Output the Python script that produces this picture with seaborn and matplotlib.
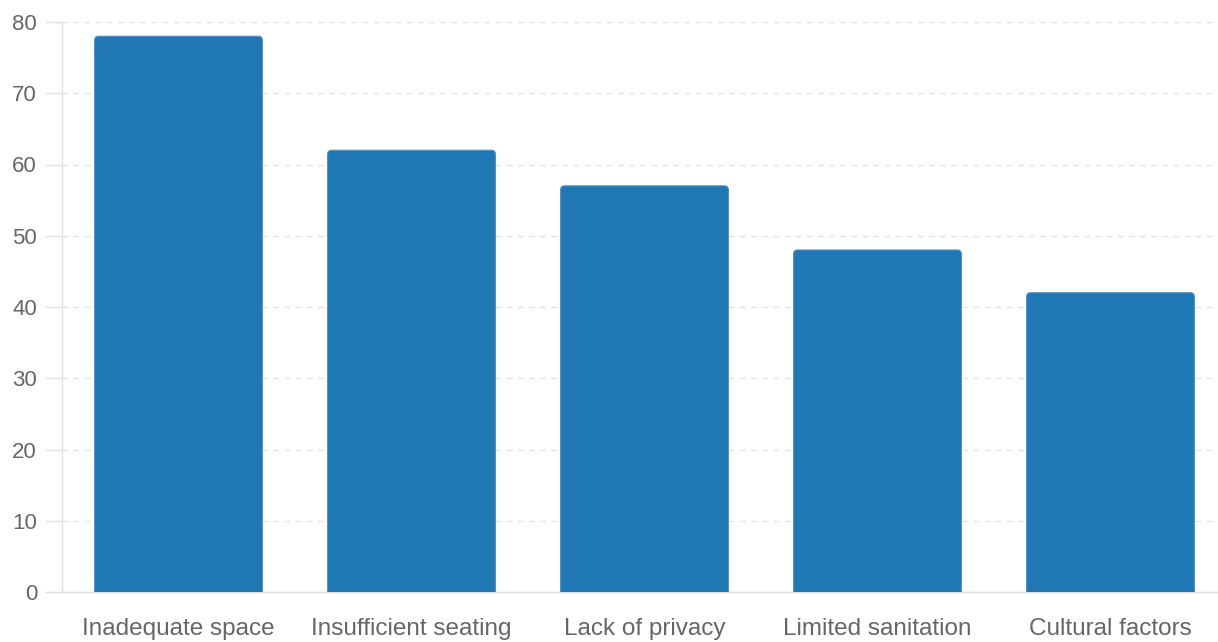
import matplotlib
matplotlib.use("Agg")
import matplotlib.pyplot as plt
import seaborn as sns
import pandas as pd
from matplotlib.patches import FancyBboxPatch

# Datos del gráfico
categories = ["Inadequate space", "Insufficient seating", "Lack of privacy",
              "Limited sanitation", "Cultural factors"]
values = [78, 62, 57, 48, 42]
y_ticks = [0, 10, 20, 30, 40, 50, 60, 70, 80]

df = pd.DataFrame({"category": categories, "value": values})

sns.set_theme(style="white")
plt.rcParams["font.family"] = ["Liberation Sans", "DejaVu Sans"]

fig = plt.figure(figsize=(12.18, 6.42), dpi=100)
ax = fig.add_axes([62 / 1218, 50 / 642, 1165 / 1218, 570 / 642])

sns.barplot(data=df, x="category", y="value", color="#1f77b4", width=0.72,
            saturation=1, ax=ax, zorder=3)

# Reemplazar barras por rectángulos con esquinas redondeadas
ax.set_xlim(-0.5, 4.5)
ax.set_ylim(0, 80)
px_x = 1165 / 5
px_y = 570 / 80
r = 4 / px_x
for p in list(ax.patches):
    x0, w, h = p.get_x(), p.get_width(), p.get_height()
    p.remove()
    box = FancyBboxPatch((x0, -3), w, h + 3,
                         boxstyle=f"round,pad=0,rounding_size={r}",
                         mutation_aspect=px_x / px_y,
                         facecolor="#1f77b4", edgecolor="#4a90c8",
                         linewidth=0.8, zorder=3)
    ax.add_patch(box)

ax.set_yticks(y_ticks)
ax.yaxis.grid(True, linestyle=(0, (4, 4)), color="#e3e3e3", linewidth=1, zorder=0)
ax.xaxis.grid(False)

for s in ["top", "right"]:
    ax.spines[s].set_visible(False)
for s in ["left", "bottom"]:
    ax.spines[s].set_color("#e0e0e0")
    ax.spines[s].set_linewidth(1)

ax.tick_params(axis="y", length=12, width=1, color="#e0e0e0", pad=6,
               labelsize=16, labelcolor="#666666", left=True)
ax.tick_params(axis="x", length=0, pad=19, labelsize=17.5, labelcolor="#666666")
ax.set_xlabel("")
ax.set_ylabel("")

fig.savefig("out.png", dpi=100)
